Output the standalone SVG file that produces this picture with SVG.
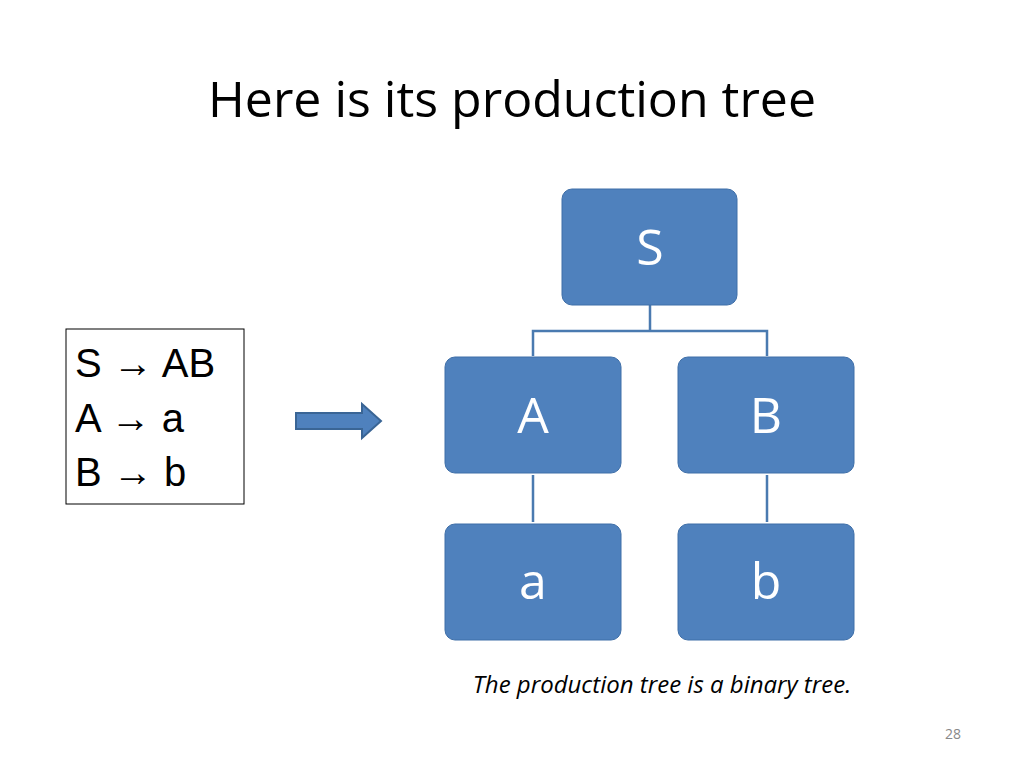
<svg xmlns="http://www.w3.org/2000/svg" width="1024" height="768" viewBox="0 0 1024 768">
<style>
.n{fill:#4f81bd;stroke:#3f6fa8;stroke-width:1}
.nt{font-family:"Open Sans","Liberation Sans",sans-serif;font-size:50px;fill:#fff;text-anchor:middle}
.c{stroke:#4a7ab0;stroke-width:2.5;fill:none}
.g{font-family:"Liberation Sans",sans-serif;font-size:40px;fill:#000}
</style>
<rect width="1024" height="768" fill="#fff"/>
<text x="512" y="117" text-anchor="middle" font-family="Open Sans, Liberation Sans, sans-serif" font-size="50" fill="#000">Here is its production tree</text>
<g id="grammar">
<rect x="66" y="329" width="178" height="175" fill="#fff" stroke="#000" stroke-width="1"/>
<text class="g" x="75" y="377">S → AB</text>
<text class="g" x="75" y="432">A → a</text>
<text class="g" x="75" y="486">B → b</text>
</g>
<g id="arrow"><path d="M296,413 H362 V404 L381,421 L362,438 V429 H296 Z" fill="#4f81bd" stroke="#3a6595" stroke-width="2"/></g>
<g id="connectors">
<path class="c" d="M650,305 V331 M533,356 V331 H767 V356 M533,475 V522 M767,475 V522"/>
</g>
<g id="S"><rect class="n" x="562" y="189" width="175" height="116" rx="10"/><text class="nt" x="650" y="265">S</text></g>
<g id="A"><rect class="n" x="445" y="357" width="176" height="116" rx="10"/><text class="nt" x="533" y="433">A</text></g>
<g id="B"><rect class="n" x="678" y="357" width="176" height="116" rx="10"/><text class="nt" x="766" y="433">B</text></g>
<g id="a"><rect class="n" x="445" y="524" width="176" height="116" rx="10"/><text class="nt" x="533" y="599">a</text></g>
<g id="b"><rect class="n" x="678" y="524" width="176" height="116" rx="10"/><text class="nt" x="766" y="599">b</text></g>
<text x="662" y="693" text-anchor="middle" font-family="Open Sans, Liberation Sans, sans-serif" font-style="italic" font-size="24" fill="#000">The production tree is a binary tree.</text>
<text x="953" y="739" text-anchor="middle" font-family="Open Sans, Liberation Sans, sans-serif" font-size="14" fill="#888">28</text>
</svg>
